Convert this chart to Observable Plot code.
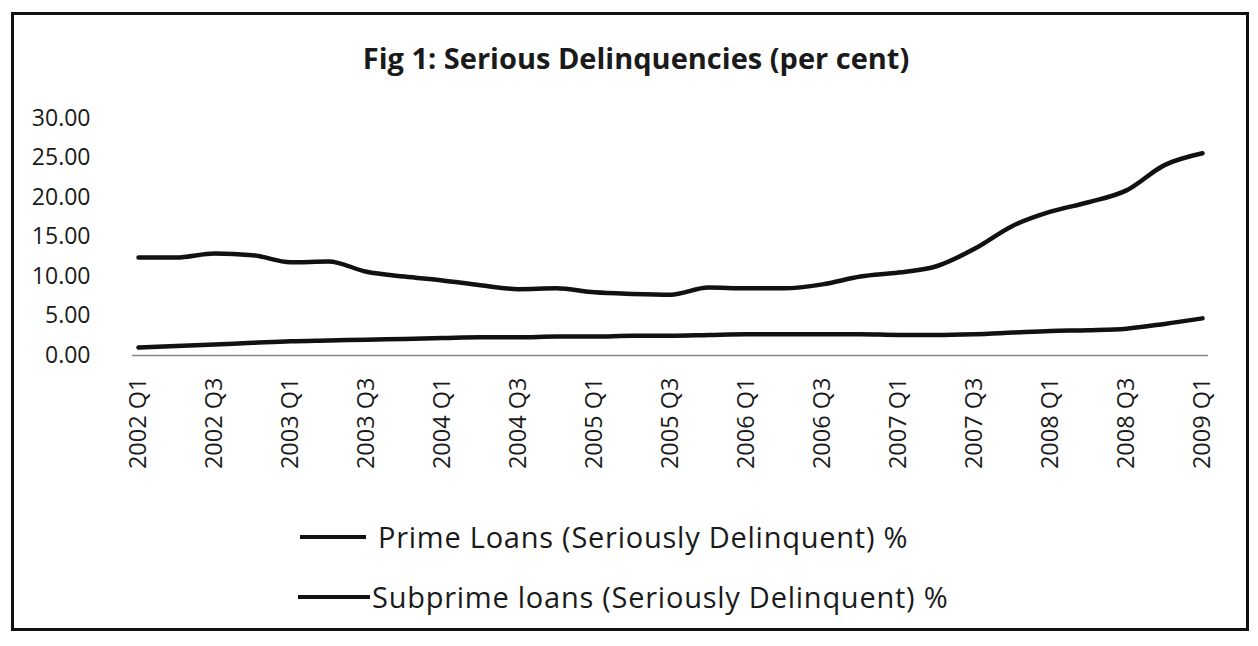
<!DOCTYPE html>
<html>
<head>
<meta charset="utf-8">
<script src="https://cdn.jsdelivr.net/npm/d3@7"></script>
<script src="https://cdn.jsdelivr.net/npm/@observablehq/plot@0.6"></script>
<style>
  html, body { margin: 0; padding: 0; background: #fff; }
  body { width: 1258px; height: 646px; position: relative; overflow: hidden; font-family: "Open Sans", sans-serif; color: #1a1a1a; }
  #frame { position: absolute; left: 11px; top: 12px; width: 1238px; height: 619px; border: 3px solid #111; box-sizing: border-box; }
  #title { position: absolute; left: 0; width: 1272px; top: 38px; text-align: center; font-weight: bold; font-size: 29px; line-height: 40px; }
  #chart { position: absolute; left: 0; top: 90px; }
  .leg { position: absolute; display: flex; align-items: center; font-size: 29px; letter-spacing: 0.75px; line-height: 38px; height: 38px; white-space: nowrap; }
  .leg svg { margin-right: 12px; }
</style>
</head>
<body>
<div id="frame"></div>
<div id="title">Fig 1: Serious Delinquencies (per cent)</div>
<div id="chart"></div>
<div class="leg" style="left:300px; top:518px;"><svg width="66" height="6"><line x1="0" x2="66" y1="3" y2="3" stroke="#111" stroke-width="4"/></svg><span>Prime Loans (Seriously Delinquent) %</span></div>
<div class="leg" style="left:298px; top:578px;"><svg width="72" height="6" style="margin-right:2px"><line x1="0" x2="72" y1="3" y2="3" stroke="#111" stroke-width="4"/></svg><span>Subprime loans (Seriously Delinquent) %</span></div>
<script>
const quarters = [
  "2002 Q1","2002 Q2","2002 Q3","2002 Q4",
  "2003 Q1","2003 Q2","2003 Q3","2003 Q4",
  "2004 Q1","2004 Q2","2004 Q3","2004 Q4",
  "2005 Q1","2005 Q2","2005 Q3","2005 Q4",
  "2006 Q1","2006 Q2","2006 Q3","2006 Q4",
  "2007 Q1","2007 Q2","2007 Q3","2007 Q4",
  "2008 Q1","2008 Q2","2008 Q3","2008 Q4",
  "2009 Q1"
];
const primeValues = [
  1.0, 1.2, 1.4, 1.6,
  1.8, 1.9, 2.0, 2.1,
  2.2, 2.3, 2.3, 2.4,
  2.4, 2.5, 2.5, 2.6,
  2.7, 2.7, 2.7, 2.7,
  2.6, 2.6, 2.7, 2.9,
  3.1, 3.2, 3.4, 4.0,
  4.7
];
const subprimeValues = [
  12.4, 12.4, 12.9, 12.7,
  11.8, 11.9, 10.6, 10.0,
  9.5, 8.9, 8.4, 8.5,
  8.0, 7.8, 7.7, 8.6,
  8.5, 8.5, 9.0, 10.0,
  10.5, 11.3, 13.5, 16.4,
  18.2, 19.4, 20.9, 24.1,
  25.6
];
const yTicks = [0, 5, 10, 15, 20, 25, 30];
const xTicks = quarters.filter((d, i) => i % 2 === 0);

const prime = quarters.map((q, i) => ({quarter: q, value: primeValues[i]}));
const subprime = quarters.map((q, i) => ({quarter: q, value: subprimeValues[i]}));

const chart = Plot.plot({
  width: 1258,
  height: 390,
  marginLeft: 132,
  marginRight: 50,
  marginTop: 28,
  marginBottom: 125,
  style: {fontFamily: "Open Sans, sans-serif", fontSize: "22px", color: "#1a1a1a", background: "transparent"},
  x: {type: "point", domain: quarters, padding: 0, label: null},
  y: {domain: [0, 30], label: null},
  marks: [
    Plot.ruleY([0], {stroke: "#888", strokeWidth: 1.5}),
    Plot.axisY({ticks: yTicks, tickFormat: d3.format(".2f"), tickSize: 0, tickPadding: 42, fontSize: 23}),
    Plot.axisX({ticks: xTicks, tickRotate: -90, tickSize: 0, tickPadding: 22, fontSize: 23.5}),
    Plot.line(prime, {x: "quarter", y: "value", stroke: "#111", strokeWidth: 4.5, curve: "monotone-x"}),
    Plot.line(subprime, {x: "quarter", y: "value", stroke: "#111", strokeWidth: 4.5, curve: "monotone-x"})
  ]
});
document.getElementById("chart").appendChild(chart);
</script>
</body>
</html>
